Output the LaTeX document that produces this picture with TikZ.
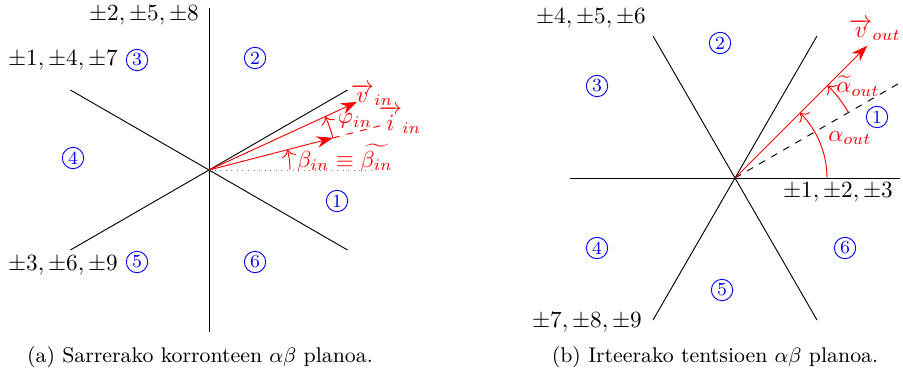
\documentclass[tikz,border=0pt]{standalone}
\usepackage{amsmath}
\usetikzlibrary{arrows.meta,calc}

\tikzset{
  sector/.style={circle,draw=blue,text=blue,inner sep=0pt,minimum size=9.2pt,font=\footnotesize},
  phasor/.style={red,-{Stealth[length=7pt,width=5pt]}},
  angarc/.style={red,-{To[length=3pt]}},
  veclbl/.style={red,inner sep=0pt},
  capt/.style={font=\fontsize{9.15}{11}\selectfont},
}

\begin{document}
\begin{tikzpicture}[x=0.01513cm,y=0.01513cm]
\path[use as bounding box] (0,0) rectangle (903,378);
% (a) current plane
\coordinate (oa) at (209,208);
\draw (oa) ++(90:162) -- ++(-90:324);
\draw (oa) ++(150:160) -- ($(oa)+(-30:160)$);
\draw (oa) ++(210:160) -- ($(oa)+(30:160)$);
\draw[gray,dotted] (oa) -- ++(0:163);
\draw[red,dashed] (oa) ++(14.5:128) -- ++(14.5:54);
\draw[phasor] (oa) -- ++(14.5:128) coordinate (itip);
\draw[phasor] (oa) -- ++(24.7:163) coordinate (vtip);
\draw[angarc] (oa) ++(0:81) arc (0:14.5:81);
\draw[angarc] (itip) arc (14.5:24.7:128);
\node[veclbl] (vin) at (372,283) {$\overrightarrow{v}_{in}$};
\node[veclbl] (iin) at (400,258) {$\overrightarrow{i}_{in}$};
\node[veclbl] (phiin) at (355,257) {$\varphi_{in}$};
\node[veclbl] (betain) at (345,220) {$\beta_{in}\equiv\widetilde{\beta_{in}}$};
\node (sa258) at (144,363) {$\pm2,\pm5,\pm8$};
\node (sa147) at (63,318) {$\pm1,\pm4,\pm7$};
\node (sa369) at (63,113) {$\pm3,\pm6,\pm9$};
\node[sector] (ra1) at (337,177) {1};
\node[sector] (ra2) at (255,320) {2};
\node[sector] (ra3) at (137,318) {3};
\node[sector] (ra4) at (73,220) {4};
\node[sector] (ra5) at (137,116) {5};
\node[sector] (ra6) at (255,116) {6};
\node[capt] (capa) at (200,21) {(a) Sarrerako korronteen $\alpha\beta$ planoa.};
% (b) voltage plane
\coordinate (ob) at (735,200);
\draw (ob) ++(180:165) -- ++(0:330);
\draw (ob) ++(120:164) -- ($(ob)+(-60:164)$);
\draw (ob) ++(60:164) -- ($(ob)+(240:164)$);
\draw[dashed] (ob) -- ++(30:190);
\draw[phasor] (ob) -- ++(45:187);
\draw[angarc] (ob) ++(0:92) arc (0:45:92);
\draw[angarc] (ob) ++(30:131) arc (30:45:131);
\node[veclbl] (vout) at (875,348) {$\overrightarrow{v}_{out}$};
\node[veclbl] (alout) at (850,240) {$\alpha_{out}$};
\node[veclbl] (altout) at (858,292) {$\widetilde{\alpha}_{out}$};
\node (sb456) at (591,360) {$\pm4,\pm5,\pm6$};
\node (sb123) at (838,186) {$\pm1,\pm2,\pm3$};
\node (sb789) at (587,56) {$\pm7,\pm8,\pm9$};
\node[sector] (rb1) at (877,261) {1};
\node[sector] (rb2) at (720,335) {2};
\node[sector] (rb3) at (597,292) {3};
\node[sector] (rb4) at (597,130) {4};
\node[sector] (rb5) at (722,88) {5};
\node[sector] (rb6) at (845,130) {6};
\node[capt] (capb) at (715,21) {(b) Irteerako tentsioen $\alpha\beta$ planoa.};
\end{tikzpicture}
\end{document}
